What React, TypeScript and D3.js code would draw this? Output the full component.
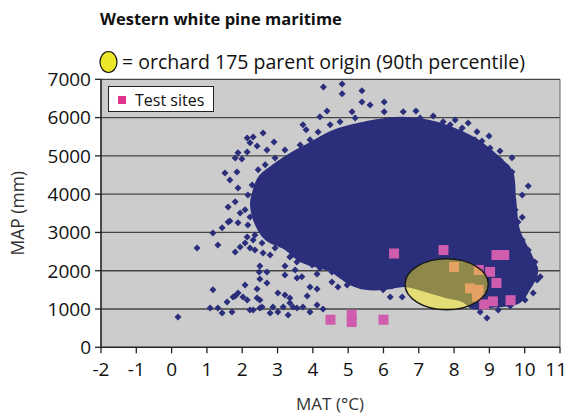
import React from "react";
import * as d3 from "d3";

// Climate of western white pine range (maritime zone): mean annual temperature vs. precipitation
const xTicks = [-2, -1, 0, 1, 2, 3, 4, 5, 6, 7, 8, 9, 10, 11];
const yTicks = [0, 1000, 2000, 3000, 4000, 5000, 6000, 7000];

// Outline of the densely sampled core of the range
const coreMAT = [2.45, 2.9, 3.4, 3.9, 4.5, 5.0, 5.9, 6.56, 7.52, 8.45, 8.93, 9.39, 9.67, 9.76, 9.87, 10.21, 10.38, 10.15, 9.87, 9.02, 8.51, 8.23, 7.75, 7.18, 6.61, 6.05, 5.48, 5.05, 4.49, 3.64, 3.21, 2.65, 2.36, 2.22, 2.3];
const coreMAP = [4450, 4800, 5100, 5350, 5650, 5800, 5970, 6020, 5890, 5550, 5260, 4890, 4580, 3850, 3065, 2410, 1970, 1500, 1160, 1025, 1000, 1185, 1290, 1445, 1575, 1500, 1500, 1630, 1970, 2230, 2540, 2800, 3200, 3720, 4110];

// Individual locations outside and along the edge of the core
const siteMAT = [
  4.3, 4.83, 4.83, 5.39, 5.39, 6.02, 5.62, 4.4, 5.11, 4.2, 6.02, 3.72, 3.81, 6.56, 6.92, 7.41, 7.69,
  8.03, 8.4, 8.23, 8.65, 8.99, 8.79, 9.3, 9.64, 9.5, 9.64, 10.1, 9.93,
  9.78, 10.0, 10.1, 10.29, 9.93, 9.67, 10.44, 8.93,
  6.19, 5.82, 5.99, 6.53,
  2.14, 2.31, 2.59, 2.9, 2.22, 2.42, 1.88, 2.14, 1.8, 1.99, 2.7, 1.51, 1.85, 1.65, 1.88, 1.6, 1.8, 1.94, 1.6, 1.17,
  1.31, 0.72, 1.43, 1.88, 2.22, 2.08, 1.65, 1.8, 2.14, 1.94, 2.36, 2.5, 2.7, 2.5, 2.7, 2.42, 2.08, 1.17, 3.21, 3.21,
  3.5, 3.55, 3.69, 3.92, 4.12, 3.84, 3.01, 3.35, 1.8, 2.02, 1.57, 2.14, 2.5, 3.35, 1.09, 1.31, 1.71, 1.43, 2.22, 2.5,
  2.87, 3.16, 3.55, 3.72, 4.12, 4.29, 2.79, 3.3, 3.92, 0.18, 4.54, 4.71, 4.97, 4.54, 4.12, 4.35, 3.98, 3.35, 3.55, 2.79,
  2.59, 2.31, 2.22, 1.74, 1.88, 2.31, 2.42, 2.56, 3.01, 3.21, 3.44, 2.48,
  2.65, 2.93, 3.21, 3.35, 3.64, 3.92, 4.15, 4.49, 4.77, 5.2, 2.79, 2.45, 2.28, 2.16, 2.08, 2.16, 2.36, 2.56, 2.93, 3.41,
  3.86, 4.2, 4.77, 5.28, 5.76, 6.24,
  7.04, 7.89, 8.17, 8.59, 9.02, 9.3, 9.53, 9.64, 9.73, 9.81, 9.93, 10.1, 10.29, 10.35, 10.24, 10.01, 9.59, 9.25, 8.74,
];
const siteMAP = [
  6800, 6880, 6620, 6700, 6410, 6410, 6330, 6170, 6150, 6020, 6150, 5810, 5680, 6150, 6170, 6040, 5890,
  5940, 5860, 5730, 5630, 5520, 5390, 5130, 4950, 4710, 4580, 4215, 3980,
  2880, 2490, 2360, 2230, 3400, 3850, 1840, 765,
  1315, 1630, 1500, 1315,
  5470, 5495, 5600, 5365, 5340, 5260, 5080, 5100, 4945, 4920, 5155, 4555, 4580, 4370, 4160, 3665, 3800, 3510, 3275, 2985,
  2675, 2595, 3120, 3250, 3405, 2725, 3300, 2490, 2880, 2620, 2540, 2125, 1970, 1785, 1680, 1525, 1630, 1500, 2125, 1890,
  2020, 1810, 1840, 1575, 1525, 1340, 1420, 1290, 1340, 1315, 1185, 1235, 1235, 1160, 1025, 1025, 920, 895, 975, 1025,
  1055, 1055, 1025, 1055, 1105, 1000, 895, 845, 920, 790, 1705, 1575, 1630, 1970, 1915, 2150, 2150, 2360, 2230, 2410,
  2465, 2805, 2595, 1315, 1420, 975, 1290, 1055, 920, 1365, 1055, 1970,
  4765, 4945, 5155, 4815, 5285, 5420, 5625, 5810, 5890, 5990, 4500, 4635, 4240, 3980, 3590, 3195, 2935, 2725, 2595, 2410,
  2230, 2070, 1890, 1760, 1680, 1600,
  5990, 5810, 5625, 5420, 5205, 4895, 4500, 4160, 3590, 3275, 2805, 2540, 2070, 1760, 1420, 1235, 1080, 975, 920,
];

// Test sites
const testMAT = [4.5, 5.1, 5.1, 6.0, 6.3, 7.7, 8.0, 9.2, 9.42, 8.7, 9.02, 9.2, 8.45, 8.7, 8.65, 9.1, 9.6, 8.85];
const testMAP = [720, 850, 660, 720, 2450, 2540, 2100, 2410, 2410, 2020, 1970, 1680, 1540, 1500, 1320, 1200, 1230, 1120];

// Orchard 175 parent origin (90th percentile): centre and half-extents
const orchardMAT = 7.79;
const orchardMAP = 1645;
const orchardHalfMAT = 1.18;
const orchardHalfMAP = 665;

const W = 569;
const H = 418;
const plot = { left: 101, right: 560, top: 79.3, bottom: 347.3 };

const NAVY = "#2a2e7b";
const PINK = "#cf5cac";
const FONT = "'Open Sans', 'Noto Sans', sans-serif";

export default function App() {
  const x = d3.scaleLinear().domain([-2, 11]).range([plot.left, plot.right]);
  const y = d3.scaleLinear().domain([0, 7000]).range([plot.bottom, plot.top]);

  const corePath = d3
    .line<number>()
    .x((_, i) => x(coreMAT[i]))
    .y((_, i) => y(coreMAP[i]))
    .curve(d3.curveCatmullRomClosed.alpha(0.5))(coreMAT);

  const r = 3.5;
  const diamond = (cx: number, cy: number) =>
    `M${cx},${cy - r}L${cx + r},${cy}L${cx},${cy + r}L${cx - r},${cy}Z`;

  const ecx = x(orchardMAT);
  const ecy = y(orchardMAP);
  const erx = x(orchardMAT + orchardHalfMAT) - ecx;
  const ery = y(orchardMAP - orchardHalfMAP) - ecy;

  return (
    <svg
      width={W}
      height={H}
      style={{ position: "absolute", left: 0, top: 0, background: "#fff" }}
      fontFamily={FONT}
    >
      {/* title */}
      <text x={100} y={25} fontSize={16.5} fontWeight={700} fill="#111">
        Western white pine maritime
      </text>
      <ellipse cx={108.5} cy={62} rx={8.5} ry={10.5} fill="#ece62a" stroke="#111" strokeWidth={1.2} />
      <text x={122} y={69} fontSize={19.5} fill="#111">
        = orchard 175 parent origin (90th percentile)
      </text>

      {/* plot area */}
      <rect
        x={plot.left}
        y={plot.top}
        width={plot.right - plot.left}
        height={plot.bottom - plot.top}
        fill="#cccccc"
      />
      {yTicks.slice(1).map((t) => (
        <line key={t} x1={plot.left} x2={plot.right} y1={y(t)} y2={y(t)} stroke="#444" strokeWidth={1.3} />
      ))}
      <line x1={plot.right} x2={plot.right} y1={plot.top} y2={plot.bottom} stroke="#666" strokeWidth={1} />

      {/* range climate */}
      <path d={corePath ?? ""} fill={NAVY} />
      {siteMAT.map((v, i) => (
        <path key={i} d={diamond(x(v), y(siteMAP[i]))} fill={NAVY} />
      ))}

      {/* test sites */}
      {testMAT.map((v, i) => (
        <rect key={i} x={x(v) - 5} y={y(testMAP[i]) - 5} width={10} height={10} fill={PINK} />
      ))}

      {/* orchard parent origin */}
      <ellipse
        cx={ecx}
        cy={ecy}
        rx={erx}
        ry={ery}
        fill="#fff014"
        fillOpacity={0.47}
        stroke="#1a1a1a"
        strokeWidth={1.5}
      />

      {/* axes */}
      <line x1={plot.left} x2={plot.left} y1={plot.top} y2={plot.bottom} stroke="#222" strokeWidth={1.6} />
      <line x1={plot.left} x2={plot.right} y1={plot.bottom} y2={plot.bottom} stroke="#222" strokeWidth={1.6} />
      {yTicks.map((t) => (
        <g key={t}>
          <line x1={plot.left - 6} x2={plot.left} y1={y(t)} y2={y(t)} stroke="#222" strokeWidth={1.3} />
          <text x={91} y={y(t)} dy="0.36em" textAnchor="end" fontSize={19} fill="#111">
            {t}
          </text>
        </g>
      ))}
      {xTicks.map((t, i) => {
        const last = i === xTicks.length - 1;
        return (
          <g key={t}>
            <line x1={x(t)} x2={x(t)} y1={plot.bottom} y2={plot.bottom + 6} stroke="#222" strokeWidth={1.3} />
            <text
              x={last ? W - 2 : x(t)}
              y={376}
              textAnchor={last ? "end" : "middle"}
              fontSize={19}
              fill="#111"
            >
              {t}
            </text>
          </g>
        );
      })}
      <text
        transform={`translate(24,${(plot.top + plot.bottom) / 2}) rotate(-90)`}
        textAnchor="middle"
        fontSize={17.5}
        fill="#333"
      >
        MAP (mm)
      </text>
      <text x={330} y={410} textAnchor="middle" fontSize={17} fill="#333">
        MAT (°C)
      </text>

      {/* legend */}
      <rect x={108.5} y={86.5} width={105} height={25} fill="#fff" stroke="#222" strokeWidth={1} />
      <rect x={118} y={96} width={8} height={8} fill="#e0338f" />
      <text x={135} y={106} fontSize={16} fill="#111">
        Test sites
      </text>
    </svg>
  );
}
